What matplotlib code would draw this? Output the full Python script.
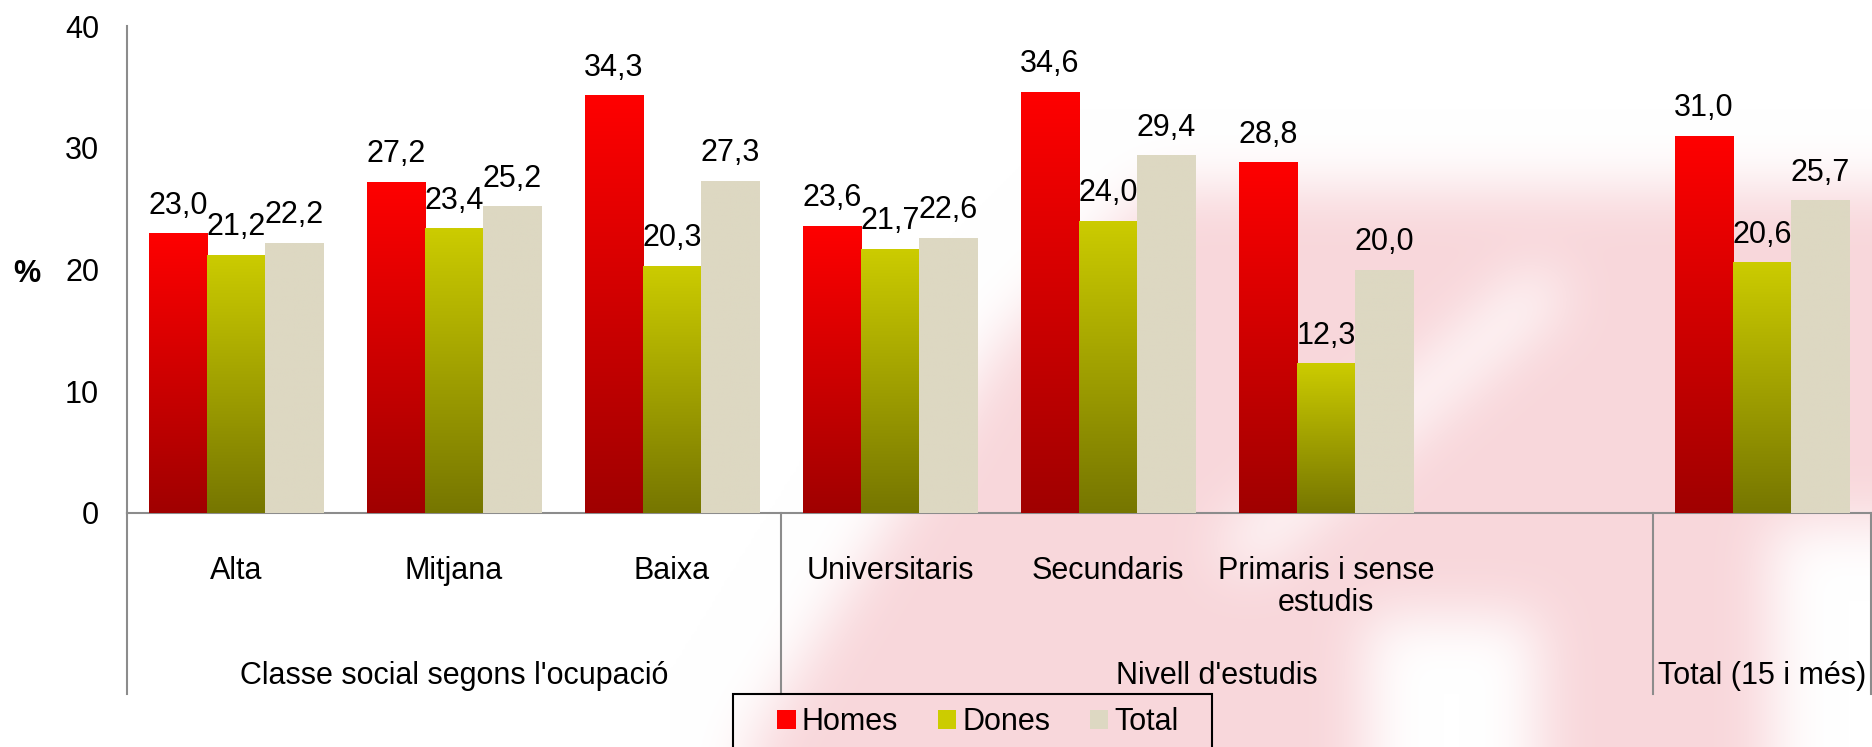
import numpy as np
import matplotlib.pyplot as plt
from matplotlib.colors import LinearSegmentedColormap
from matplotlib.patches import Patch, Rectangle
from matplotlib.path import Path

plt.rcParams['font.family'] = ['Liberation Sans', 'DejaVu Sans']

categories = ['Alta', 'Mitjana', 'Baixa', 'Universitaris', 'Secundaris',
              'Primaris i sense\nestudis', '', '']
grups = ["Classe social segons l'ocupació", "Nivell d'estudis", 'Total (15 i més)']
homes = [23.0, 27.2, 34.3, 23.6, 34.6, 28.8, None, 31.0]
dones = [21.2, 23.4, 20.3, 21.7, 24.0, 12.3, None, 20.6]
total = [22.2, 25.2, 27.3, 22.6, 29.4, 20.0, None, 25.7]
series = ['Homes', 'Dones', 'Total']

colors_top = ['#ff0000', '#cccc00', '#ddd8c2']
colors_bot = ['#a00000', '#767600', '#ddd8c2']

W, H = 1872, 747
fig = plt.figure(figsize=(W / 100, H / 100), dpi=100)

# marca d'aigua rosa difuminada darrere del grafic
s = 3
gx, gy = np.meshgrid(np.arange(0, W, s), np.arange(0, H, s))
pts = np.column_stack([gx.ravel(), gy.ravel()])
mask = np.zeros(gx.shape)
rosa_f = [[(740, 747), (1000, 330), (1150, 180), (1872, 180), (1872, 747)]]
blanc_f = [
    [(1210, 540), (1530, 262), (1562, 290), (1242, 568)],
    [(1360, 610), (1530, 610), (1530, 747), (1360, 747)],
    [(1767, 517), (1872, 517), (1872, 747), (1767, 747)],
]
for f in rosa_f:
    mask[Path(f).contains_points(pts).reshape(gx.shape)] = 1
for f in blanc_f:
    mask[Path(f).contains_points(pts).reshape(gx.shape)] = 0
mask = np.pad(mask, 40, mode='edge')
k = np.ones(18) / 18
for _ in range(3):
    mask = np.apply_along_axis(lambda r: np.convolve(r, k, mode='same'), 1, mask)
    mask = np.apply_along_axis(lambda c: np.convolve(c, k, mode='same'), 0, mask)
mask = mask[40:-40, 40:-40]
rosa = np.array([0.975, 0.845, 0.86])
img = np.ones(gx.shape + (3,)) * (1 - mask[..., None]) + rosa * mask[..., None]
bg = fig.add_axes([0, 0, 1, 1], zorder=-1)
bg.imshow(img, extent=[0, W, H, 0], aspect='auto', interpolation='bilinear')
bg.axis('off')

ax = fig.add_axes([127 / W, (H - 513) / H, (1871 - 127) / W, (513 - 26) / H])
ax2 = fig.add_axes([127 / W, (H - 694) / H, (1871 - 127) / W, (694 - 513) / H])
ax.patch.set_alpha(0)
ax2.patch.set_alpha(0)

n = len(categories)
x = np.arange(n)
bw = 0.8 / 3
fs = 22

for k, vals in enumerate([homes, dones, total]):
    xs = [xi for xi, v in zip(x, vals) if v is not None]
    vs = [v for v in vals if v is not None]
    bars = ax.bar(np.array(xs) + (k - 1) * bw, vs, bw, color=colors_top[k], linewidth=0, zorder=2)
    cmap = LinearSegmentedColormap.from_list('g%d' % k, [colors_bot[k], colors_top[k]])
    grad = np.linspace(0, 1, 256).reshape(-1, 1)
    for b, v in zip(bars, vs):
        x0 = b.get_x()
        im = ax.imshow(grad, cmap=cmap, origin='lower', aspect='auto',
                       extent=[x0, x0 + b.get_width(), 0, v], zorder=3)
        im.set_clip_path(b)
        ax.annotate(f'{v:.1f}'.replace('.', ','), (x0 + b.get_width() / 2, v),
                    xytext=(0, 14), textcoords='offset points', ha='center', va='baseline',
                    fontsize=fs, zorder=5)

ax.set_xlim(-0.5, n - 0.5)
ax.set_ylim(0, 40)
ax.set_yticks([0, 10, 20, 30, 40])
ax.tick_params(axis='y', length=0, pad=20, labelsize=fs)
ax.set_xticks([])
for sp in ['top', 'right']:
    ax.spines[sp].set_visible(False)
for sp in ['left', 'bottom']:
    ax.spines[sp].set_color('#8c8c8c')
    ax.spines[sp].set_linewidth(1.5)
ax.set_ylabel('%', rotation=0, fontsize=fs, fontweight='bold', va='center', ha='center')
ax.yaxis.set_label_coords(-100 / 1744, 0.49)

# zona de categories sota l'eix
ax2.set_xlim(-0.5, n - 0.5)
ax2.set_ylim(0, 1)
ax2.axis('off')
for xv in [-0.5, 2.5, 6.5, 7.5]:
    ax2.plot([xv, xv], [0, 1], color='#8c8c8c', lw=1.5, clip_on=False)
for xi, c in zip(x, categories):
    ax2.text(xi, 0.76, c, ha='center', va='top', fontsize=fs, linespacing=1.05)
for (a, b), g in zip([(-0.5, 2.5), (2.5, 6.5), (6.5, 7.5)], grups):
    ax2.text((a + b) / 2, 0.10, g, ha='center', va='center', fontsize=fs)

handles = [Patch(facecolor=colors_top[k], edgecolor='none') for k in range(3)]
fig.legend(handles, series, loc='center', bbox_to_anchor=(978 / W, (H - 722) / H),
           ncol=3, fontsize=fs, frameon=False,
           handlelength=0.6, handleheight=0.6, handletextpad=0.2, columnspacing=1.3,
           borderpad=0, borderaxespad=0)
fig.patches.append(Rectangle((733 / W, -0.05), (1212 - 733) / W, 0.05 + (H - 694) / H,
                             transform=fig.transFigure, fill=False, edgecolor='black', lw=1.5))

fig.savefig('out.png', dpi=100)
